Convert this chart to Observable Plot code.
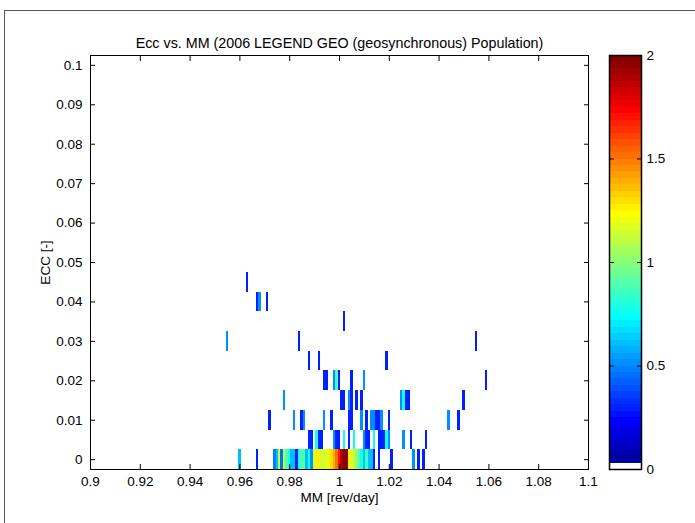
<!DOCTYPE html>
<html><head><meta charset="utf-8">
<script src="https://cdn.jsdelivr.net/npm/d3@7"></script>
<script src="https://cdn.jsdelivr.net/npm/@observablehq/plot@0.6"></script>
<style>
body{margin:0;background:#fff;}
#fig{position:relative;width:695px;height:523px;overflow:hidden;background:#fff;font-family:"Liberation Sans",Arial,sans-serif;}
#border{position:absolute;left:4px;top:10px;width:800px;height:600px;border-top:1px solid #555;border-left:1px solid #555;z-index:5;pointer-events:none;}
#main{position:absolute;left:0;top:0;}
#cbar{position:absolute;left:600px;top:0;}
</style></head><body>
<div id="fig"><div id="main"></div><div id="cbar"></div><div id="border"></div></div>
<script>
const title = "Ecc vs. MM (2006 LEGEND GEO (geosynchronous) Population)";
const xLabel = "MM [rev/day]";
const yLabel = "ECC [-]";

const xTicks = [0.9, 0.92, 0.94, 0.96, 0.98, 1.0, 1.02, 1.04, 1.06, 1.08, 1.1];
const xTickLabels = ["0.9","0.92","0.94","0.96","0.98","1","1.02","1.04","1.06","1.08","1.1"];
const yTicks = [0, 0.01, 0.02, 0.03, 0.04, 0.05, 0.06, 0.07, 0.08, 0.09, 0.1];
const yTickLabels = ["0","0.01","0.02","0.03","0.04","0.05","0.06","0.07","0.08","0.09","0.1"];
const cbTicks = [0, 0.5, 1, 1.5, 2];
const cbTickLabels = ["0","0.5","1","1.5","2"];

// bin sizes of the 2-D histogram
const mmBin = 0.001;
const eccBin = 0.005;

// ECC rows (bin centres) and the MM bin centres + colour values in each row
const ecc0 = 0;
const mm0 = [0.960,0.967,0.974,0.975,0.976,0.977,0.978,0.979,0.980,0.981,0.982,0.983,0.984,0.985,0.986,0.987,0.988,0.989,0.990,0.991,0.992,0.993,0.994,0.995,0.996,0.997,0.998,0.999,1.000,1.001,1.002,1.003,1.004,1.005,1.006,1.007,1.008,1.009,1.010,1.011,1.012,1.013,1.014,1.016,1.021,1.030,1.032,1.034];
const val0 = [0.62,0.3,0.48,0.62,1.15,0.45,1.1,0.9,0.78,0.62,0.62,0.3,0.75,0.9,0.9,0.62,0.75,0.5,1.15,1.28,1.28,1.15,1.15,1.18,1.25,1.3,1.4,1.5,1.7,1.9,2.0,1.95,1.28,1.18,1.1,1.0,0.88,0.78,0.62,0.85,0.62,0.6,0.3,0.3,0.3,0.5,0.3,0.3];

const ecc1 = 0.005;
const mm1 = [0.988,0.989,0.991,0.992,0.993,0.998,0.999,1.000,1.002,1.004,1.006,1.010,1.011,1.012,1.014,1.016,1.017,1.018,1.019,1.020,1.026,1.029,1.035];
const val1 = [0.3,0.3,0.75,0.3,0.3,0.5,0.3,0.3,0.75,0.3,0.75,0.5,0.3,0.3,0.75,0.3,0.3,0.3,0.75,0.5,0.5,0.3,0.3];

const ecc2 = 0.01;
const mm2 = [0.972,0.982,0.985,0.986,0.994,0.997,1.004,1.005,1.009,1.011,1.013,1.014,1.015,1.016,1.017,1.020,1.044,1.048];
const val2 = [0.3,0.5,0.3,0.5,0.5,0.3,0.3,0.3,0.5,0.3,0.5,0.5,0.3,0.3,0.5,0.3,0.5,0.3];

const ecc3 = 0.015;
const mm3 = [0.978,1.001,1.002,1.004,1.005,1.007,1.009,1.025,1.026,1.027,1.028,1.050];
const val3 = [0.5,0.3,0.3,0.5,0.3,0.3,0.3,0.5,0.75,0.3,0.3,0.3];

const ecc4 = 0.02;
const mm4 = [0.994,0.995,0.998,0.999,1.000,1.005,1.010,1.059];
const val4 = [0.3,0.3,0.5,0.85,0.3,0.3,0.5,0.3];

const ecc5 = 0.025;
const mm5 = [0.988,0.992,1.019];
const val5 = [0.3,0.3,0.3];

const ecc6 = 0.03;
const mm6 = [0.955,0.984,1.055];
const val6 = [0.5,0.3,0.3];

const ecc7 = 0.035;
const mm7 = [1.002];
const val7 = [0.3];

const ecc8 = 0.04;
const mm8 = [0.967,0.968,0.971];
const val8 = [0.3,0.5,0.3];

const ecc9 = 0.045;
const mm9 = [0.963];
const val9 = [0.3];

const rows = [
  [ecc0, mm0, val0],[ecc1, mm1, val1],[ecc2, mm2, val2],[ecc3, mm3, val3],[ecc4, mm4, val4],
  [ecc5, mm5, val5],[ecc6, mm6, val6],[ecc7, mm7, val7],[ecc8, mm8, val8],[ecc9, mm9, val9]
];
const cells = rows.flatMap(([e, mms, vals]) => mms.map((m, i) => ({mm: m, ecc: e, v: vals[i]})));

// MATLAB jet(64) colormap, with the lowest entry set to white
function jetRow(j) {
  const B = j <= 8 ? (j + 8) / 16 : j <= 23 ? 1 : j <= 39 ? (40 - j) / 16 : 0;
  const G = j <= 8 ? 0 : j <= 24 ? (j - 8) / 16 : j <= 39 ? 1 : j <= 55 ? (56 - j) / 16 : 0;
  const R = j <= 24 ? 0 : j <= 40 ? (j - 24) / 16 : j <= 55 ? 1 : (72 - j) / 16;
  return d3.rgb(R * 255, G * 255, B * 255).formatHex();
}
const nColors = 64;
const cmin = 0, cmax = 2;
const colors = d3.range(1, nColors + 1).map(j => j === 1 ? "#ffffff" : jetRow(j));
const thresholds = d3.range(1, nColors).map(i => cmin + i * (cmax - cmin) / nColors);
const colorScale = {type: "threshold", domain: thresholds, range: colors};

const font = '"Liberation Sans", Arial, Helvetica, sans-serif';
const fs = "13.5px";
const lookup = (ticks, labels) => d => labels[ticks.findIndex(t => Math.abs(t - d) < 1e-9)];

const main = Plot.plot({
  width: 600, height: 523,
  marginLeft: 90, marginRight: 12, marginTop: 55, marginBottom: 54,
  x: {domain: [0.9, 1.1]},
  y: {domain: [-0.0025, 0.1025]},
  color: colorScale,
  style: {fontFamily: font, fontSize: fs, color: "black", background: "transparent", overflow: "visible"},
  marks: [
    Plot.rect(cells, {x1: d => d.mm - mmBin / 2, x2: d => d.mm + mmBin / 2,
                      y1: d => d.ecc - eccBin / 2, y2: d => d.ecc + eccBin / 2,
                      fill: "v", shapeRendering: "crispEdges"}),
    Plot.frame({stroke: "black"}),
    Plot.axisX({anchor: "bottom", ticks: xTicks, tickSize: -5, tickPadding: 12,
                tickFormat: lookup(xTicks, xTickLabels), label: xLabel, labelAnchor: "center",
                labelArrow: "none", labelOffset: 32}),
    Plot.axisX({anchor: "top", ticks: xTicks, tickSize: -5, tickFormat: () => "", label: null}),
    Plot.axisY({anchor: "left", ticks: yTicks, tickSize: -5, tickPadding: 13,
                tickFormat: lookup(yTicks, yTickLabels), label: yLabel, labelAnchor: "center",
                labelArrow: "none", labelOffset: 50}),
    Plot.axisY({anchor: "right", ticks: yTicks, tickSize: -5, tickFormat: () => "", label: null}),
    Plot.text([title], {frameAnchor: "top", dy: -18, fontSize: 14.3, fill: "black"})
  ]
});
document.getElementById("main").append(main);

const bands = d3.range(nColors).map(i => ({lo: cmin + i * (cmax - cmin) / nColors, hi: cmin + (i + 1) * (cmax - cmin) / nColors}));
const cbar = Plot.plot({
  width: 95, height: 523,
  marginLeft: 9, marginRight: 54, marginTop: 55, marginBottom: 54,
  x: {domain: [0, 1], axis: null},
  y: {domain: [cmin, cmax]},
  color: colorScale,
  style: {fontFamily: font, fontSize: fs, color: "black", background: "transparent", overflow: "visible"},
  marks: [
    Plot.rect(bands, {y1: "lo", y2: "hi", fill: d => (d.lo + d.hi) / 2, shapeRendering: "crispEdges"}),
    Plot.frame({stroke: "black", strokeWidth: 1.5}),
    Plot.axisY({anchor: "right", ticks: cbTicks, tickSize: -5, tickPadding: 10,
                tickFormat: lookup(cbTicks, cbTickLabels), label: null}),
    Plot.axisY({anchor: "left", ticks: cbTicks, tickSize: -5, tickFormat: () => "", label: null})
  ]
});
document.getElementById("cbar").append(cbar);
</script>
</body></html>
